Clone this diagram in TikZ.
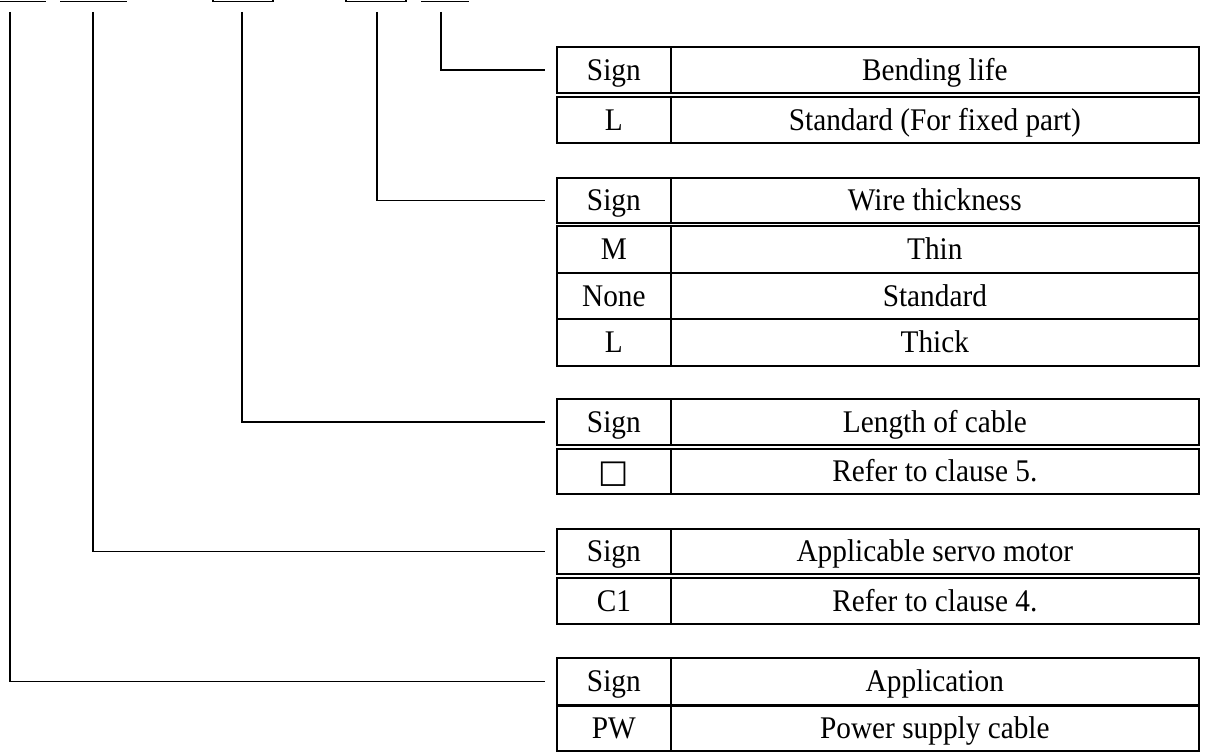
\documentclass[tikz,border=0pt]{standalone}
\usepackage{fontspec}
\setmainfont[FakeStretch=0.93]{Liberation Serif}
\newfontfamily\symfont{DejaVu Sans}
\begin{document}
\begin{tikzpicture}[x=1pt,y=-1pt,
  cell/.style={draw, line width=1.7pt, inner sep=0pt, anchor=north west,
    text height=21pt, text depth=0pt,
    font=\fontsize{31.5}{32}\selectfont},
  conn/.style={line width=1.6pt, shorten >=11pt},
  topline/.style={line width=1.6pt}]
\useasboundingbox (0,0) rectangle (1205,752);
\clip (0,0) rectangle (1205,752);
% partial boxes at top edge
\draw[topline] (-5,1.5) -- (46,1.5);
\draw[topline] (60,1.5) -- (127,1.5);
\draw[topline] (213,-10) -- (213,1.5) -- (273,1.5) -- (273,-10);
\draw[topline] (346,-10) -- (346,1.5) -- (406,1.5) -- (406,-10);
\draw[topline] (421,1.5) -- (469,1.5);
% start points of connectors
\coordinate (s1) at (441,12);
\coordinate (s2) at (377,12);
\coordinate (s3) at (242,12);
\coordinate (s4) at (93,12);
\coordinate (s5) at (10,12);
% Table 1
\node[cell, minimum width=114, minimum height=46] (t1hs) at (556,46) {Sign};
\node[cell, minimum width=528, minimum height=46] (t1hd) at (670,46) {Bending life};
\node[cell, minimum width=114, minimum height=46] (t1as) at (556,96) {L};
\node[cell, minimum width=528, minimum height=46] (t1ad) at (670,96) {Standard (For fixed part)};
% Table 2
\node[cell, minimum width=114, minimum height=45] (t2hs) at (556,177) {Sign};
\node[cell, minimum width=528, minimum height=45] (t2hd) at (670,177) {Wire thickness};
\node[cell, minimum width=114, minimum height=47] (t2as) at (556,225) {M};
\node[cell, minimum width=528, minimum height=47] (t2ad) at (670,225) {Thin};
\node[cell, minimum width=114, minimum height=46] (t2bs) at (556,272) {None};
\node[cell, minimum width=528, minimum height=46] (t2bd) at (670,272) {Standard};
\node[cell, minimum width=114, minimum height=47] (t2cs) at (556,318) {L};
\node[cell, minimum width=528, minimum height=47] (t2cd) at (670,318) {Thick};
% Table 3
\node[cell, minimum width=114, minimum height=46] (t3hs) at (556,398) {Sign};
\node[cell, minimum width=528, minimum height=46] (t3hd) at (670,398) {Length of cable};
\node[cell, minimum width=114, minimum height=45, text height=22pt, font=\symfont\fontsize{32}{33}\selectfont] (t3as) at (556,448) {□};
\node[cell, minimum width=528, minimum height=45] (t3ad) at (670,448) {Refer to clause 5.};
% Table 4
\node[cell, minimum width=114, minimum height=45] (t4hs) at (556,528) {Sign};
\node[cell, minimum width=528, minimum height=45] (t4hd) at (670,528) {Applicable servo motor};
\node[cell, minimum width=114, minimum height=46] (t4as) at (556,577) {C1};
\node[cell, minimum width=528, minimum height=46] (t4ad) at (670,577) {Refer to clause 4.};
% Table 5
\node[cell, minimum width=114, minimum height=47] (t5hs) at (556,657) {Sign};
\node[cell, minimum width=528, minimum height=47] (t5hd) at (670,657) {Application};
\node[cell, minimum width=114, minimum height=46] (t5as) at (556,704) {PW};
\node[cell, minimum width=528, minimum height=46] (t5ad) at (670,704) {Power supply cable};
\draw[line width=3.2pt] (t5hs.south west) -- (t5hd.south east);
% connectors
\draw[conn] (s1) |- (t1hs.west);
\draw[conn] (s2) |- (t2hs.west);
\draw[conn] (s3) |- (t3hs.west);
\draw[conn] (s4) |- (t4hs.west);
\draw[conn] (s5) |- (t5hs.west);
\end{tikzpicture}
\end{document}
